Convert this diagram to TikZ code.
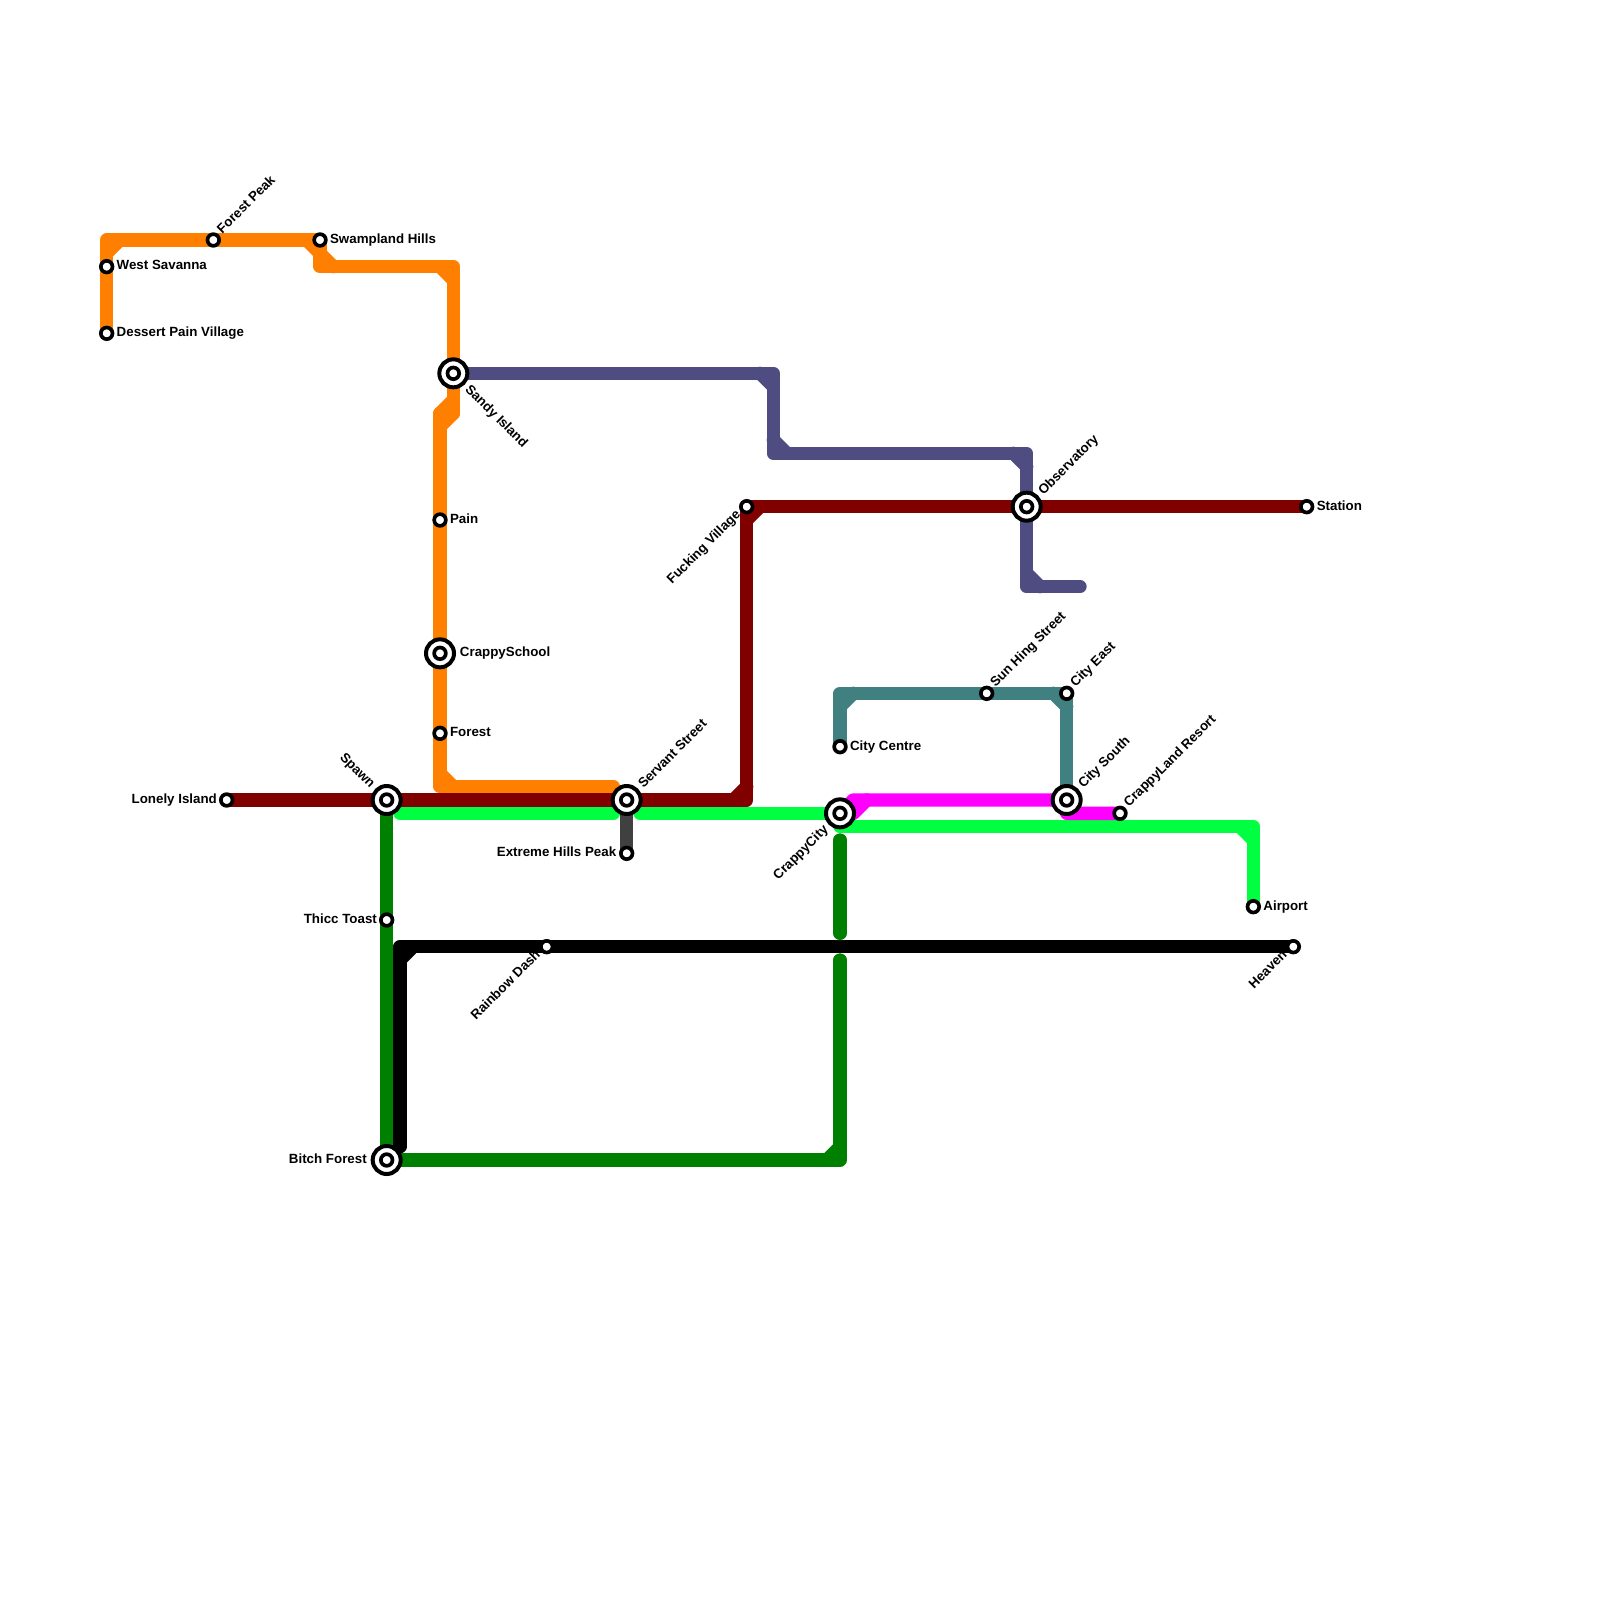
\documentclass[tikz,border=0pt]{standalone}
\usepackage{fontspec}
\setmainfont{Liberation Sans}
\usetikzlibrary{calc}
\definecolor{lnorange}{RGB}{255,128,0}
\definecolor{lnred}{RGB}{128,0,0}
\definecolor{lnlime}{RGB}{0,255,64}
\definecolor{lngreen}{RGB}{0,128,0}
\definecolor{lnslate}{RGB}{78,76,128}
\definecolor{lnteal}{RGB}{64,128,128}
\definecolor{lnmagenta}{RGB}{255,0,255}
\definecolor{lngrey}{RGB}{64,64,64}
\pgfdeclarelayer{lines}
\pgfsetlayers{lines,main}
\tikzset{
  metroline/.style={line width=0.2cm,line cap=round,line join=round},
  stopring/.style={circle,draw=black,fill=white,line width=0.055cm,inner sep=0pt,minimum size=0.175cm},
  hubring/.style={circle,draw=black,fill=white,line width=0.06cm,inner sep=0pt,minimum size=0.42cm},
  stoplabel/.style={inner sep=0pt,font=\fontsize{5.69pt}{6.8pt}\bfseries,text=black},
}
\newcommand{\stopdot}[2]{\node[stopring] (#1) at (#2) {};}
\newcommand{\hubdot}[2]{%
  \node[hubring] (#1) at (#2) {};
  \node[stopring] (#1inner) at (#2) {};}
\newcommand{\stoptext}[4]{\node[stoplabel,#2] (#1text) at ($(#1)+(#3)$) {#4};}
\newcommand{\chamfer}[3]{\draw[metroline,#1] (#2) -- (#3);}
\begin{document}
\begin{tikzpicture}[x=0.2cm,y=-0.2cm]
  \useasboundingbox (0,0) rectangle (120,120);
  % stations
  \stopdot{westsavanna}{8,20}\stopdot{dessertpain}{8,25}
  \stopdot{forestpeak}{16,18}\stopdot{swampland}{24,18}
  \hubdot{sandyisland}{34,28}
  \stopdot{pain}{33,39}\hubdot{crappyschool}{33,49}\stopdot{forest}{33,55}
  \stopdot{lonelyisland}{17,60}\hubdot{spawn}{29,60}\hubdot{servantstreet}{47,60}
  \stopdot{fuckingvillage}{56,38}\hubdot{observatory}{77,38}\stopdot{station}{98,38}
  \stopdot{extremehills}{47,64}\stopdot{thicctoast}{29,69}\hubdot{bitchforest}{29,87}
  \stopdot{rainbowdash}{41,71}\stopdot{heaven}{97,71}
  \stopdot{citycentre}{63,56}\stopdot{sunhing}{74,52}\stopdot{cityeast}{80,52}
  \hubdot{citysouth}{80,60}\hubdot{crappycity}{63,61}
  \stopdot{crappyland}{84,61}\stopdot{airport}{94,68}
  % labels
  \stoptext{westsavanna}{anchor=base west}{0.72,0.25}{West Savanna}
  \stoptext{dessertpain}{anchor=base west}{0.72,0.25}{Dessert Pain Village}
  \stoptext{swampland}{anchor=base west}{0.72,0.25}{Swampland Hills}
  \stoptext{pain}{anchor=base west}{0.72,0.25}{Pain}
  \stoptext{forest}{anchor=base west}{0.72,0.25}{Forest}
  \stoptext{crappyschool}{anchor=base west}{1.46,0.25}{CrappySchool}
  \stoptext{citycentre}{anchor=base west}{0.72,0.25}{City Centre}
  \stoptext{airport}{anchor=base west}{0.72,0.25}{Airport}
  \stoptext{station}{anchor=base west}{0.72,0.25}{Station}
  \stoptext{lonelyisland}{anchor=base east}{-0.7,0.25}{Lonely Island}
  \stoptext{thicctoast}{anchor=base east}{-0.7,0.25}{Thicc Toast}
  \stoptext{extremehills}{anchor=base east}{-0.75,0.25}{Extreme Hills Peak}
  \stoptext{bitchforest}{anchor=base east}{-1.46,0.25}{Bitch Forest}
  \stoptext{forestpeak}{anchor=base west,rotate=45}{0.65,-0.4}{Forest Peak}
  \stoptext{sunhing}{anchor=base west,rotate=45}{0.65,-0.4}{Sun Hing Street}
  \stoptext{cityeast}{anchor=base west,rotate=45}{0.65,-0.4}{City East}
  \stoptext{crappyland}{anchor=base west,rotate=45}{0.65,-0.4}{CrappyLand Resort}
  \stoptext{servantstreet}{anchor=base west,rotate=45}{1.24,-0.82}{Servant Street}
  \stoptext{observatory}{anchor=base west,rotate=45}{1.24,-0.82}{Observatory}
  \stoptext{citysouth}{anchor=base west,rotate=45}{1.24,-0.82}{City South}
  \stoptext{fuckingvillage}{anchor=base east,rotate=45}{-0.4,0.65}{Fucking Village}
  \stoptext{rainbowdash}{anchor=base east,rotate=45}{-0.4,0.65}{Rainbow Dash}
  \stoptext{heaven}{anchor=base east,rotate=45}{-0.4,0.65}{Heaven}
  \stoptext{crappycity}{anchor=base east,rotate=45}{-0.82,1.24}{CrappyCity}
  \stoptext{sandyisland}{anchor=base west,rotate=-45}{0.82,1.24}{Sandy Island}
  \stoptext{spawn}{anchor=base east,rotate=-45}{-1.24,-0.82}{Spawn}
  % lines
  \begin{pgfonlayer}{lines}
    \draw[metroline,lnorange] (dessertpain.center) -- (8,18) -- (swampland.center) -- (24,20) -- (34,20) -- (sandyisland.center) -- (34,31);
    \chamfer{lnorange}{8,19}{9,18}\chamfer{lnorange}{23,18}{24,19}
    \chamfer{lnorange}{24,19}{25,20}\chamfer{lnorange}{33,20}{34,21}
    \chamfer{lnorange}{34,30}{33,31}\chamfer{lnorange}{34,31}{33,32}
    \draw[metroline,lnorange] (33,31) -- (pain.center) -- (33,59) -- (46,59);
    \chamfer{lnorange}{33,58}{34,59}
    \draw[metroline,lnslate] (sandyisland.center) -- (58,28) -- (58,34) -- (77,34) -- (77,44) -- (81,44);
    \chamfer{lnslate}{57,28}{58,29}\chamfer{lnslate}{58,33}{59,34}
    \chamfer{lnslate}{76,34}{77,35}\chamfer{lnslate}{77,43}{78,44}
    \draw[metroline,lnlime] (30,61) -- (46,61);
    \draw[metroline,lnlime] (48,61) -- (crappycity.center);
    \draw[metroline,lnlime] (63,62) -- (94,62) -- (airport.center);
    \chamfer{lnlime}{93,62}{94,63}
    \draw[metroline,lnred] (lonelyisland.center) -- (56,60) -- (fuckingvillage.center) -- (station.center);
    \chamfer{lnred}{56,59}{55,60}\chamfer{lnred}{56,39}{57,38}
    \draw[metroline,lngrey] (servantstreet.center) -- (extremehills.center);
    \draw[metroline,lngreen] (spawn.center) -- (bitchforest.center) -- (63,87) -- (63,72);
    \chamfer{lngreen}{62,87}{63,86}
    \draw[metroline,lngreen] (63,63) -- (63,70);
    \draw[metroline,black] (30,86) -- (30,71) -- (heaven.center);
    \chamfer{black}{30,72}{31,71}
    \draw[metroline,lnteal] (citycentre.center) -- (63,52) -- (cityeast.center) -- (citysouth.center);
    \chamfer{lnteal}{63,53}{64,52}\chamfer{lnteal}{79,52}{80,53}
    \draw[metroline,lnmagenta] (crappycity.center) -- (64,60) -- (80,60) -- (80,61) -- (crappyland.center);
    \chamfer{lnmagenta}{64,61}{65,60}
  \end{pgfonlayer}
\end{tikzpicture}
\end{document}
